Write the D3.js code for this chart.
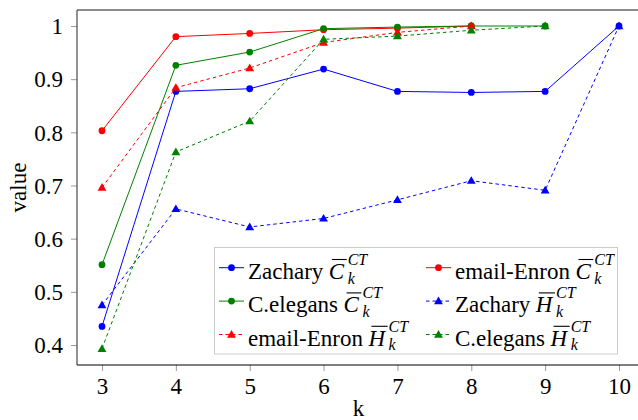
<!DOCTYPE html>
<html>
<head>
<meta charset="utf-8">
<script src="https://cdn.jsdelivr.net/npm/d3@7/dist/d3.min.js"></script>
<style>
  html, body { margin: 0; padding: 0; background: #fff; }
  svg { display: block; }
</style>
</head>
<body>
<svg id="chart" width="638" height="420"></svg>
<script>
// k values on the x axis
const kValues = [3, 4, 5, 6, 7, 8, 9, 10];
const xTicks = [3, 4, 5, 6, 7, 8, 9, 10];
const yTicks = [0.4, 0.5, 0.6, 0.7, 0.8, 0.9, 1];

// Average clustering (C) and H measures per network
const zacharyC  = [0.435, 0.877, 0.882, 0.919, 0.877, 0.875, 0.877, 1.0];
const enronC    = [0.803, 0.980, 0.986, 0.993, 0.996, 1.0];
const celegansC = [0.551, 0.926, 0.951, 0.995, 0.998, 1.0, 1.0];
const zacharyH  = [0.475, 0.656, 0.622, 0.638, 0.673, 0.709, 0.691, 1.0];
const enronH    = [0.696, 0.884, 0.921, 0.969, 0.988, 1.0];
const celegansH = [0.393, 0.763, 0.821, 0.975, 0.981, 0.992, 1.0];

const seriesNames = ["Zachary", "email-Enron", "C.elegans", "Zachary", "email-Enron", "C.elegans"];
const seriesSymbol = ["C", "C", "C", "H", "H", "H"];

const series = [
  { name: seriesNames[0], sym: seriesSymbol[0], values: zacharyC,  color: "#0000ff", dashed: false, marker: "circle" },
  { name: seriesNames[1], sym: seriesSymbol[1], values: enronC,    color: "#ff0000", dashed: false, marker: "circle" },
  { name: seriesNames[2], sym: seriesSymbol[2], values: celegansC, color: "#008000", dashed: false, marker: "circle" },
  { name: seriesNames[3], sym: seriesSymbol[3], values: zacharyH,  color: "#0000ff", dashed: true,  marker: "triangle" },
  { name: seriesNames[4], sym: seriesSymbol[4], values: enronH,    color: "#ff0000", dashed: true,  marker: "triangle" },
  { name: seriesNames[5], sym: seriesSymbol[5], values: celegansH, color: "#008000", dashed: true,  marker: "triangle" }
];

const SERIF = '"Liberation Serif", "Times New Roman", serif';
const FONT = 23;

const svg = d3.select("#chart").style("font-family", SERIF);
const frame = { left: 77, right: 640, top: 10, bottom: 365 };

const x = d3.scaleLinear().domain([3, 10]).range([102, 619]);
const y = d3.scaleLinear().domain([0.4, 1]).range([345, 26]);

// Axes
const xAxis = d3.axisBottom(x).tickValues(xTicks).tickSize(6).tickPadding(8)
  .tickFormat(d3.format("d"));
const yAxis = d3.axisLeft(y).tickValues(yTicks).tickSize(6).tickPadding(8)
  .tickFormat(d => d === 1 ? "1" : d3.format(".1f")(d));

const gx = svg.append("g").attr("transform", `translate(0,${frame.bottom})`).call(xAxis);
gx.attr("font-family", null).attr("font-size", null);
gx.select(".domain").remove();
gx.selectAll(".tick line").attr("stroke", "#9a9a9a").attr("stroke-width", 1);
gx.selectAll(".tick text").style("font-family", SERIF).style("font-size", FONT + "px").attr("dy", "0.65em");

const gy = svg.append("g").attr("transform", `translate(${frame.left},0)`).call(yAxis);
gy.attr("font-family", null).attr("font-size", null);
gy.select(".domain").remove();
gy.selectAll(".tick line").attr("stroke", "#9a9a9a").attr("stroke-width", 1);
gy.selectAll(".tick text").style("font-family", SERIF).style("font-size", FONT + "px").attr("dy", "0.34em");

// Frame lines
svg.append("line").attr("x1", frame.left).attr("x2", frame.right).attr("y1", frame.top).attr("y2", frame.top)
  .attr("stroke", "#666").attr("stroke-width", 1.3);
svg.append("line").attr("x1", frame.left).attr("x2", frame.left).attr("y1", frame.top).attr("y2", frame.bottom)
  .attr("stroke", "#555").attr("stroke-width", 1.3);
svg.append("line").attr("x1", frame.left).attr("x2", frame.right).attr("y1", frame.bottom).attr("y2", frame.bottom)
  .attr("stroke", "#000").attr("stroke-width", 1.2);

function txt(g) {
  return g.append("text").style("font-family", SERIF).style("font-size", FONT + "px").attr("fill", "#000");
}

// Axis titles
txt(svg).attr("x", (frame.left + frame.right) / 2).attr("y", 416)
  .attr("text-anchor", "middle").text("k");
txt(svg).attr("transform", `translate(26,${(frame.top + frame.bottom) / 2}) rotate(-90)`)
  .attr("text-anchor", "middle").text("value");

// Markers
const triangle = d3.symbol().type(d3.symbolTriangle).size(34);
function drawMarker(g, type, cx, cy, color) {
  if (type === "circle") {
    g.append("circle").attr("cx", cx).attr("cy", cy).attr("r", 3.4).attr("fill", color);
  } else {
    g.append("path").attr("d", triangle()).attr("transform", `translate(${cx},${cy + 0.6})`).attr("fill", color);
  }
}

const line = d3.line().x((d, i) => x(kValues[i])).y(d => y(d));

const plot = svg.append("g");
series.forEach(s => {
  const g = plot.append("g");
  g.append("path").datum(s.values).attr("d", line).attr("fill", "none")
    .attr("stroke", s.color).attr("stroke-width", 1)
    .attr("stroke-dasharray", s.dashed ? "3.5,3" : null);
  s.values.forEach((v, i) => drawMarker(g, s.marker, x(kValues[i]), y(v), s.color));
});

// Legend
const legend = svg.append("g");
legend.append("rect").attr("x", 214.5).attr("y", 247.5).attr("width", 403).attr("height", 106.5)
  .attr("fill", "#fff").attr("stroke", "#cccccc").attr("stroke-width", 1);

const colX = [219, 426];
const rowY = [279, 312.4, 345.8];

function legendLabel(tx, ty, name, sym) {
  const t = txt(legend).attr("x", tx).attr("y", ty).text(name);
  const w = t.node().getComputedTextLength();
  const lx = tx + w + 5.5;
  const L = txt(legend).attr("x", lx).attr("y", ty).style("font-style", "italic").text(sym);
  const lw = L.node().getComputedTextLength();
  legend.append("line").attr("x1", lx + 3).attr("x2", lx + lw + 2.5)
    .attr("y1", ty - 19.5).attr("y2", ty - 19.5).attr("stroke", "#000").attr("stroke-width", 1.1);
  const sx = lx + lw + 3.5;
  txt(legend).attr("x", sx).attr("y", ty - 14).style("font-size", "16px")
    .style("font-style", "italic").text("CT");
  txt(legend).attr("x", sx).attr("y", ty + 4.5).style("font-size", "16px")
    .style("font-style", "italic").text("k");
}

series.forEach((s, i) => {
  const col = i % 2, row = Math.floor(i / 2);
  const lx = colX[col], ly = rowY[row];
  const my = ly - 11.3;
  legend.append("line").attr("x1", lx).attr("x2", lx + 25).attr("y1", my).attr("y2", my)
    .attr("stroke", s.color).attr("stroke-width", 1)
    .attr("stroke-dasharray", s.dashed ? "3.5,3" : null);
  drawMarker(legend, s.marker, lx + 12.5, my, s.color);
  legendLabel(lx + 29, ly, s.name, s.sym);
});
</script>
</body>
</html>
